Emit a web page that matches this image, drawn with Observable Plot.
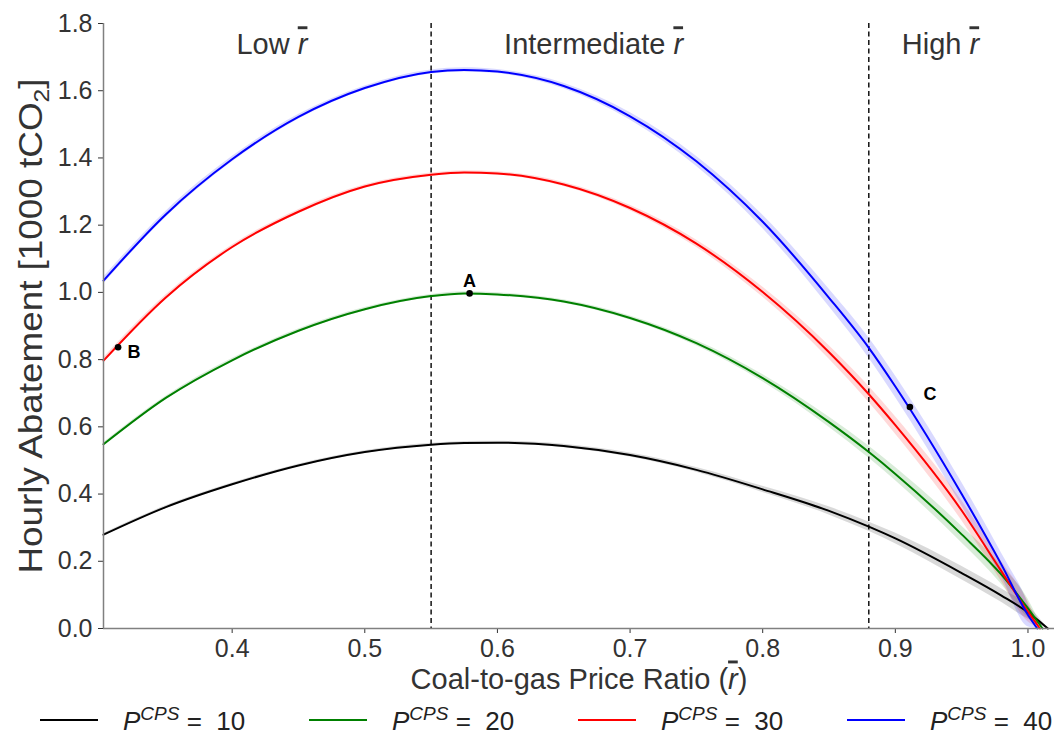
<!DOCTYPE html>
<html>
<head>
<meta charset="utf-8">
<script src="https://cdn.jsdelivr.net/npm/d3@7"></script>
<script src="https://cdn.jsdelivr.net/npm/@observablehq/plot@0.6"></script>
<style>
  body { margin: 0; background: #fff; font-family: "Liberation Sans", Arial, sans-serif; }
  #wrap { width: 1059px; position: relative; }
  #legend { position: relative; width: 1059px; height: 40px; }
  .item { position: absolute; top: 0; height: 40px; display: flex; align-items: center; font-size: 26px; color: #222; white-space: pre; }
  .sw { width: 58px; height: 0; border-top: 2px solid; margin-right: 25px; }
  .item i sup { font-size: 19px; }
  svg text { white-space: pre; }
</style>
</head>
<body>
<div id="wrap"><div id="chart"></div><div id="legend"></div></div>
<script>
// ---- data ----
const ratio = [0.303, 0.35, 0.40, 0.45, 0.50, 0.55, 0.575, 0.60, 0.65, 0.70, 0.75, 0.80, 0.85, 0.88, 0.90, 0.95, 0.98, 1.00];
const seriesNames = ["10", "20", "30", "40"];
const seriesColors = ["black", "green", "red", "blue"];
const endRatio = [1.015, 1.011, 1.009, 1.007];
const abate10 = [0.279, 0.361, 0.429, 0.485, 0.525, 0.547, 0.552, 0.553, 0.543, 0.516, 0.472, 0.414, 0.350, 0.303, 0.268, 0.165, 0.098, 0.048];
const abate20 = [0.548, 0.686, 0.798, 0.886, 0.950, 0.989, 0.997, 0.994, 0.973, 0.924, 0.849, 0.745, 0.614, 0.525, 0.460, 0.280, 0.160, 0.060];
const abate30 = [0.797, 0.985, 1.135, 1.240, 1.315, 1.350, 1.357, 1.354, 1.321, 1.251, 1.145, 1.001, 0.822, 0.697, 0.605, 0.351, 0.170, 0.050];
const abate40 = [1.035, 1.232, 1.396, 1.522, 1.608, 1.656, 1.662, 1.657, 1.614, 1.524, 1.390, 1.210, 0.984, 0.835, 0.720, 0.400, 0.190, 0.040];
const band10 = [0.004, 0.004, 0.004, 0.004, 0.004, 0.004, 0.004, 0.004, 0.005, 0.006, 0.007, 0.009, 0.012, 0.014, 0.016, 0.020, 0.020, 0.020];
const band20 = [0.005, 0.005, 0.005, 0.005, 0.005, 0.005, 0.005, 0.005, 0.005, 0.006, 0.008, 0.011, 0.015, 0.018, 0.020, 0.025, 0.028, 0.028];
const band30 = [0.008, 0.007, 0.006, 0.006, 0.005, 0.005, 0.005, 0.005, 0.006, 0.008, 0.011, 0.015, 0.020, 0.024, 0.026, 0.030, 0.030, 0.030];
const band40 = [0.010, 0.009, 0.008, 0.007, 0.006, 0.006, 0.006, 0.006, 0.008, 0.011, 0.015, 0.020, 0.026, 0.030, 0.032, 0.035, 0.035, 0.035];
const regimeBounds = [0.55, 0.88];
const regimeNames = ["Low", "Intermediate", "High"];
const regimeX = [0.430, 0.6725, 0.934];
const regimeY = 1.736;
const pointLabels = ["A", "B", "C"];
const pointX = [0.579, 0.314, 0.911];
const pointY = [0.997, 0.837, 0.659];
const xTicks = [0.4, 0.5, 0.6, 0.7, 0.8, 0.9, 1.0];
const yTicks = [0.0, 0.2, 0.4, 0.6, 0.8, 1.0, 1.2, 1.4, 1.6, 1.8];
const xDomain = [0.303, 1.02];
const yDomain = [0, 1.8];
const xTitle = "Coal-to-gas Price Ratio";
const yTitle = "Hourly Abatement [1000 tCO2]";

// ---- build table ----
const values = [abate10, abate20, abate30, abate40];
const bands = [band10, band20, band30, band40];
const rows = [];
seriesNames.forEach((s, k) => {
  ratio.forEach((r, i) => rows.push({series: s, r, v: values[k][i], lo: values[k][i] - bands[k][i], hi: values[k][i] + bands[k][i]}));
  rows.push({series: s, r: endRatio[k], v: 0, lo: 0, hi: 0});
});
const regimes = regimeNames.map((n, i) => ({name: n, x: regimeX[i], y: regimeY}));
const pts = pointLabels.map((l, i) => ({label: l, x: pointX[i], y: pointY[i]}));

const font = '"Liberation Sans", Arial, sans-serif';
const chart = Plot.plot({
  width: 1059, height: 700,
  marginLeft: 103, marginRight: 5, marginTop: 23, marginBottom: 72,
  style: {fontFamily: font, fontSize: "25px", color: "#333", background: "white"},
  x: {domain: xDomain, ticks: xTicks, tickFormat: d3.format(".1f"), tickSize: 5, tickPadding: 6, label: null},
  y: {domain: yDomain, ticks: yTicks, tickFormat: d3.format(".1f"), tickSize: 5, tickPadding: 6, label: null},
  color: {domain: seriesNames, range: seriesColors},
  marks: [
    Plot.areaY(rows, {x: "r", y1: "lo", y2: "hi", z: "series", fill: "series", fillOpacity: 0.15, curve: "monotone-x"}),
    Plot.ruleX(regimeBounds, {stroke: "black", strokeWidth: 1.4, strokeDasharray: "5,3.5"}),
    Plot.lineY(rows, {x: "r", y: "v", z: "series", stroke: "series", strokeWidth: 2, curve: "monotone-x"}),
    Plot.ruleY([0], {stroke: "#808080", strokeWidth: 1.5}),
    Plot.ruleX([xDomain[0]], {stroke: "#808080", strokeWidth: 1.5}),
    Plot.dot(pts, {x: "x", y: "y", r: 3.3, fill: "black"}),
    Plot.text(pts.filter(d => d.label === "A"), {x: "x", y: "y", text: "label", dy: -12, fontWeight: "bold", fontSize: 18, fill: "black"}),
    Plot.text(pts.filter(d => d.label === "B"), {x: "x", y: "y", text: "label", dx: 16, dy: 5, fontWeight: "bold", fontSize: 18, fill: "black"}),
    Plot.text(pts.filter(d => d.label === "C"), {x: "x", y: "y", text: "label", dx: 20, dy: -13, fontWeight: "bold", fontSize: 18, fill: "black"}),
    Plot.text(regimes, {x: "x", y: "y", text: "name", fontSize: 29, fill: "#333"}),
    Plot.text([xTitle], {frameAnchor: "bottom", textAnchor: "middle", dy: 60, fontSize: 29, fill: "#333"}),
    Plot.text([yTitle], {frameAnchor: "left", textAnchor: "middle", rotate: -90, dx: -72, fontSize: 33, fill: "#333"})
  ]
});
document.getElementById("chart").appendChild(chart);

// ---- rich text: italic r with overline, subscript 2 ----
const svg = d3.select(chart);
function rbar(t) {
  t.append("tspan").attr("font-style", "italic").style("text-decoration", "overline").text("r");
}
svg.selectAll("text").each(function() {
  const t = d3.select(this);
  const s = this.textContent;
  if (regimeNames.includes(s)) {
    t.text(null);
    t.append("tspan").text(s + "\u00a0");
    rbar(t);
  } else if (s === xTitle) {
    t.text(null);
    t.append("tspan").text(s + "\u00a0(");
    rbar(t);
    t.append("tspan").text(")");
  } else if (s === yTitle) {
    t.text(null);
    t.attr("textLength", 495).attr("lengthAdjust", "spacingAndGlyphs");
    t.append("tspan").text("Hourly Abatement [1000 tCO");
    t.append("tspan").attr("dy", 7).attr("font-size", 22).text("2");
    t.append("tspan").attr("dy", -7).text("]");
  }
});

// ---- legend ----
const legend = d3.select("#legend");
seriesNames.forEach((s, i) => {
  const it = legend.append("div").attr("class", "item").style("left", (40 + i * 269) + "px");
  it.append("div").attr("class", "sw").style("border-color", seriesColors[i]);
  it.append("span").html(`<i>P<sup>CPS</sup></i> =  ${s}`);
});
</script>
</body>
</html>
